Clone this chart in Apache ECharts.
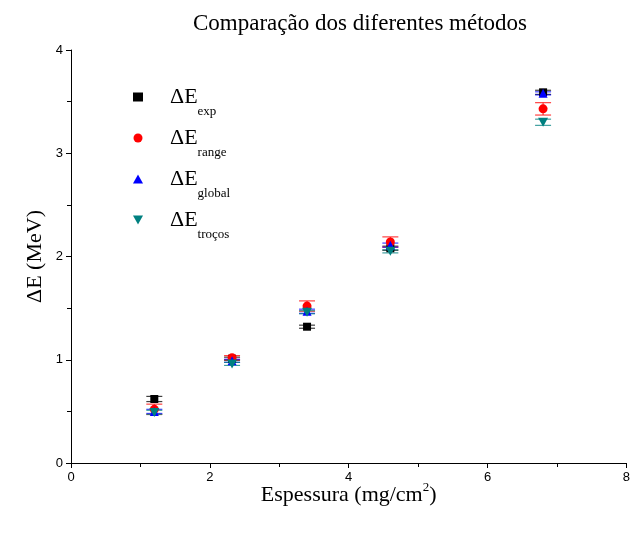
<!DOCTYPE html>
<html>
<head>
<meta charset="utf-8">
<script src="https://cdn.jsdelivr.net/npm/echarts@6/dist/echarts.min.js"></script>
<style>html,body{margin:0;padding:0;background:#fff}#c{width:633px;height:533px}</style>
</head>
<body>
<div id="c"></div>
<script>
var thickness = [1.2, 2.32, 3.4, 4.6, 6.8];
var seriesNames = ['exp', 'range', 'global', 'troços'];
var dEexp = [0.62, 1.01, 1.32, 2.08, 3.59];
var dErange = [0.52, 1.02, 1.52, 2.14, 3.43];
var dEglobal = [0.50, 0.99, 1.47, 2.11, 3.58];
var dEtrocos = [0.49, 0.96, 1.46, 2.05, 3.30];
var errExp = [0.025, 0.015, 0.015, 0.02, 0.02];
var errRange = [0.05, 0.02, 0.05, 0.05, 0.06];
var errGlobal = [0.02, 0.015, 0.02, 0.02, 0.015];
var errTrocos = [0.02, 0.015, 0.015, 0.015, 0.03];
var xTicks = ['0', '2', '4', '6', '8'];
var yTicks = ['0', '1', '2', '3', '4'];

var colors = ['#000000', '#ff0000', '#0000ff', '#008080'];
var symbols = ['rect', 'circle', 'triangle', 'path://M0,0L10,0L5,9Z'];
var values = [dEexp, dErange, dEglobal, dEtrocos];
var errs = [errExp, errRange, errGlobal, errTrocos];

var serif = '"Liberation Serif", "DejaVu Serif", serif';
var sans = '"Liberation Sans", Arial, sans-serif';

function errSeries(i) {
  return {
    type: 'custom',
    name: 'err_' + seriesNames[i],
    z: 2,
    silent: true,
    data: thickness.map(function (x, k) { return [x, values[i][k], errs[i][k]]; }),
    renderItem: function (params, api) {
      var x = api.value(0), y = api.value(1), e = api.value(2);
      var top = api.coord([x, y + e]);
      var bot = api.coord([x, y - e]);
      var hw = 8;
      var st = { stroke: colors[i], lineWidth: 1.2, opacity: 0.75 };
      return {
        type: 'group',
        children: [
          { type: 'line', shape: { x1: top[0], y1: top[1], x2: bot[0], y2: bot[1] }, style: st },
          { type: 'line', shape: { x1: top[0] - hw, y1: top[1], x2: top[0] + hw, y2: top[1] }, style: st },
          { type: 'line', shape: { x1: bot[0] - hw, y1: bot[1], x2: bot[0] + hw, y2: bot[1] }, style: st }
        ]
      };
    }
  };
}

var series = [];
for (var i = 0; i < 4; i++) series.push(errSeries(i));
for (var j = 0; j < 4; j++) {
  series.push({
    type: 'scatter',
    name: seriesNames[j],
    z: 3,
    symbol: symbols[j],
    symbolSize: j === 0 ? 8 : (j === 3 ? [10, 9] : 9),
    itemStyle: { color: colors[j], opacity: 1 },
    data: thickness.map(function (x, k) { return [x, values[j][k]]; })
  });
}

var chart = echarts.init(document.getElementById('c'), null, { renderer: 'canvas' });
chart.setOption({
  animation: false,
  backgroundColor: '#ffffff',
  title: {
    text: 'Comparação dos diferentes métodos',
    left: 355, textAlign: 'center', top: 7,
    textStyle: { fontFamily: serif, fontSize: 23, fontWeight: 'normal', color: '#000' }
  },
  legend: {
    orient: 'vertical',
    left: 128, top: 81,
    itemGap: 9,
    itemWidth: 10, itemHeight: 9,
    data: seriesNames.map(function (n, k) {
      return { name: n, icon: symbols[k], itemStyle: { color: colors[k], opacity: 1 } };
    }),
    formatter: function (name) { return '{a|ΔE}{b|' + name + '}'; },
    textStyle: {
      padding: [0, 0, 0, 22],
      rich: {
        a: { fontFamily: serif, fontSize: 22, color: '#000', lineHeight: 24 },
        b: { fontFamily: serif, fontSize: 13, color: '#000', padding: [29, 0, 0, 0] }
      }
    }
  },
  grid: { left: 71, right: 6, top: 50, bottom: 70 },
  xAxis: {
    type: 'value', min: 0, max: 8, interval: 2,
    name: '{a|Espessura (mg/cm}{s|2}{a|)}',
    nameLocation: 'middle', nameGap: 18, nameMoveOverlap: false,
    nameTextStyle: {
      rich: {
        a: { fontFamily: serif, fontSize: 22, color: '#000' },
        s: { fontFamily: serif, fontSize: 13, color: '#000', padding: [0, 0, 16, 0] }
      }
    },
    axisLine: { show: true, onZero: false, lineStyle: { color: '#000', width: 1 } },
    axisTick: { show: true, inside: false, length: 5, lineStyle: { color: '#000' } },
    minorTick: { show: true, splitNumber: 2, length: 4, lineStyle: { color: '#000' } },
    splitLine: { show: false },
    axisLabel: {
      fontFamily: sans, fontSize: 13, color: '#000', margin: 8,
      formatter: function (v) { return xTicks[Math.round(v / 2)]; }
    }
  },
  yAxis: {
    type: 'value', min: 0, max: 4, interval: 1,
    name: 'ΔE (MeV)',
    nameLocation: 'middle', nameGap: 25, nameRotate: 90, nameMoveOverlap: false,
    nameTextStyle: { fontFamily: serif, fontSize: 22, color: '#000' },
    axisLine: { show: true, onZero: false, lineStyle: { color: '#000', width: 1 } },
    axisTick: { show: true, inside: false, length: 5, lineStyle: { color: '#000' } },
    minorTick: { show: true, splitNumber: 2, length: 4, lineStyle: { color: '#000' } },
    splitLine: { show: false },
    axisLabel: {
      fontFamily: sans, fontSize: 13, color: '#000', margin: 8,
      formatter: function (v) { return yTicks[Math.round(v)]; }
    }
  },
  series: series
});
</script>
</body>
</html>
